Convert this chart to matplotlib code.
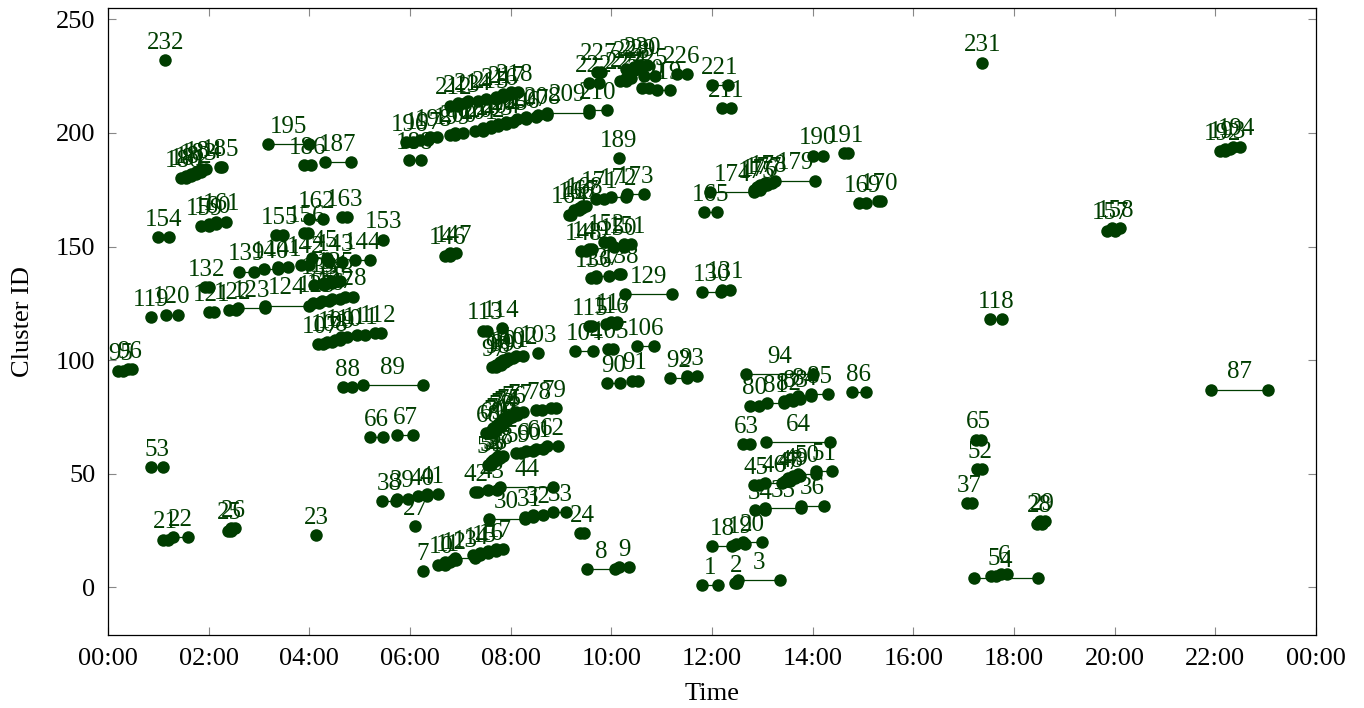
import matplotlib
matplotlib.use("Agg")
from matplotlib import pyplot as plt
import numpy as np

# cluster id -> detection times (hours of the day)
cluster_ids = list(range(1, 233))
cluster_hours = [
    [11.8, 12.12], [12.45, 12.5], [12.52, 13.35], [17.2, 18.47], [17.55, 17.65],      # 1-5
    [17.75, 17.87], [6.26], [9.51, 10.08], [10.15, 10.36], [6.55, 6.7],              # 6-10
    [6.7, 6.8], [6.85, 6.92], [6.9, 7.3], [7.25, 7.4], [7.4, 7.55],                  # 11-15
    [7.55, 7.7], [7.7, 7.85], [12.0, 12.4], [12.48, 12.65], [12.62, 13.0],           # 16-20
    [1.09, 1.2], [1.3, 1.58], [4.14], [9.38, 9.45], [2.38, 2.45],                    # 21-25
    [2.45, 2.52], [6.1], [18.45, 18.55], [18.52, 18.62], [7.56, 8.28],               # 26-30
    [8.28, 8.45], [8.45, 8.65], [8.85, 9.1], [12.86, 13.06], [13.06, 13.76],         # 31-35
    [13.76, 14.22], [17.07, 17.17], [5.45, 5.73], [5.75, 5.95], [6.15, 6.33],        # 36-40
    [6.33, 6.56], [7.29, 7.35], [7.55, 7.72], [7.79, 8.85], [12.83, 12.93],          # 41-45
    [13.05, 13.4], [13.45, 13.55], [13.5, 13.65], [13.6, 13.75], [13.7, 14.06],      # 46-50
    [14.06, 14.39], [17.27, 17.37], [0.86, 1.09], [7.55, 7.6], [7.6, 7.65],          # 51-55
    [7.65, 7.72], [7.7, 7.78], [7.75, 7.85], [8.1, 8.2], [8.3, 8.45],                # 56-60
    [8.5, 8.65], [8.72, 8.95], [12.62, 12.76], [13.08, 14.35], [17.25, 17.35],       # 61-65
    [5.2, 5.47], [5.74, 6.06], [7.5, 7.6], [7.6, 7.68], [7.65, 7.75],                # 66-70
    [7.7, 7.8], [7.75, 7.85], [7.8, 7.9], [7.85, 7.95], [7.9, 8.02],                 # 71-75
    [8.0, 8.12], [8.1, 8.25], [8.5, 8.62], [8.8, 8.9], [12.76, 12.93],               # 76-80
    [13.09, 13.43], [13.43, 13.6], [13.55, 13.75], [13.7, 13.96], [13.96, 14.3],     # 81-85
    [14.79, 15.05], [21.92, 23.04], [4.67, 4.84], [5.07, 6.25], [9.91, 10.18],       # 86-90
    [10.42, 10.52], [11.17, 11.5], [11.5, 11.7], [12.68, 14.01], [0.2, 0.3],         # 91-95
    [0.4, 0.47], [7.62, 7.7], [7.7, 7.8], [7.78, 7.88], [7.85, 7.95],                # 96-100
    [7.95, 8.05], [8.1, 8.25], [8.55], [9.28, 9.64], [9.94, 10.04],                  # 101-105
    [10.51, 10.84], [4.17, 4.27], [4.35, 4.45], [4.5, 4.6], [4.62, 4.75],            # 106-110
    [4.95, 5.1], [5.3, 5.42], [7.45, 7.52], [7.82], [9.55, 9.62],                    # 111-115
    [9.9, 10.1], [10.0, 10.12], [17.53, 17.77], [0.86], [1.15, 1.39],                # 116-120
    [2.0, 2.1], [2.41, 2.55], [2.58, 3.11], [3.11, 4.0], [4.07, 4.2],                # 121-125
    [4.25, 4.4], [4.45, 4.6], [4.7, 4.87], [10.27, 11.2], [11.8, 12.17],             # 126-130
    [12.2, 12.35], [1.92, 2.0], [4.1, 4.3], [4.3, 4.45], [4.45, 4.6],                # 131-135
    [9.6, 9.7], [9.7, 9.95], [10.15, 10.2], [2.61, 2.9], [3.1, 3.38],                # 136-140
    [3.38, 3.58], [3.84, 4.0], [4.4, 4.65], [4.9, 5.2], [4.05, 4.35],                # 141-145
    [6.7, 6.8], [6.8, 6.92], [9.4, 9.5], [9.55, 9.62], [10.05, 10.25],               # 146-150
    [10.25, 10.4], [9.85, 9.97], [5.47], [0.99, 1.21], [3.34, 3.48],                 # 151-155
    [3.9, 3.98], [19.85, 20.0], [19.95, 20.1], [1.85, 2.0], [2.0, 2.15],             # 156-160
    [2.15, 2.35], [4.0, 4.28], [4.64, 4.75], [9.15, 9.2], [11.85, 12.1],             # 161-165
    [9.25, 9.35], [9.35, 9.42], [9.42, 9.5], [14.92, 15.05], [15.3, 15.35],          # 166-170
    [9.7, 9.85], [10.0, 10.3], [10.31, 10.64], [11.97, 12.83], [12.83, 12.95],       # 171-175
    [12.9, 13.0], [12.95, 13.1], [13.05, 13.2], [13.26, 14.04], [1.45, 1.55],        # 176-180
    [1.55, 1.65], [1.65, 1.75], [1.75, 1.85], [1.85, 1.95], [2.22, 2.27],            # 181-185
    [3.89, 4.04], [4.32, 4.82], [5.97, 6.21], [10.15], [14.0, 14.2],                 # 186-190
    [14.62, 14.7], [22.1, 22.2], [22.2, 22.3], [22.35, 22.5], [3.18, 3.99],          # 191-195
    [5.93, 6.05], [6.2, 6.35], [6.4, 6.53], [6.8, 6.9], [6.9, 7.05],                 # 196-200
    [7.3, 7.45], [7.45, 7.6], [7.6, 7.75], [7.75, 7.9], [7.9, 8.05],                 # 201-205
    [8.12, 8.3], [8.3, 8.5], [8.55, 8.72], [8.72, 9.55], [9.55, 9.91],               # 206-210
    [12.2, 12.38], [6.8, 6.95], [6.95, 7.1], [7.15, 7.35], [7.5, 7.7],               # 211-215
    [7.7, 7.85], [7.85, 8.0], [8.0, 8.15], [10.9, 11.17], [10.6, 10.75],             # 216-220
    [12.0, 12.31], [9.55, 9.75], [10.18, 10.3], [10.3, 10.4], [10.65, 10.87],        # 221-225
    [11.3, 11.5], [9.71, 9.8], [10.3, 10.5], [10.45, 10.6], [10.55, 10.71],          # 226-230
    [17.37], [1.14],                                                                 # 231-232
]

xtick_hours = list(range(0, 25, 2))
xtick_labels = ["%02d:00" % (h % 24) for h in xtick_hours]
yticks = [0, 50, 100, 150, 200, 250]

green = "#003d00"
plt.rcParams['font.family'] = ['Liberation Serif', 'DejaVu Serif']

fig = plt.figure(figsize=(13.64, 7.08), dpi=100)
ax = fig.add_axes([0.0792, 0.1031, 0.8856, 0.8856])

for cid, hours in zip(cluster_ids, cluster_hours):
    ax.plot(hours, [cid] * len(hours), '-o', color=green, lw=0.9,
            markersize=9, markeredgewidth=0, zorder=3)
    ax.annotate(str(cid), (np.mean(hours), cid), xytext=(0, 4.5),
                textcoords='offset points', ha='center', va='bottom',
                fontsize=18, color=green, zorder=4)

ax.set_xlim(0, 24)
ax.set_ylim(-21, 255)
ax.set_xticks(xtick_hours)
ax.set_xticklabels(xtick_labels)
ax.set_yticks(yticks)
ax.tick_params(direction='in', length=6, width=0.8, color='#888888',
               labelsize=19, top=True, right=True, pad=9)
for s in ax.spines.values():
    s.set_linewidth(0.9)
ax.set_xlabel("Time", fontsize=19, labelpad=10)
ax.set_ylabel("Cluster ID", fontsize=19, labelpad=16)

fig.savefig("out.png", dpi=100)
